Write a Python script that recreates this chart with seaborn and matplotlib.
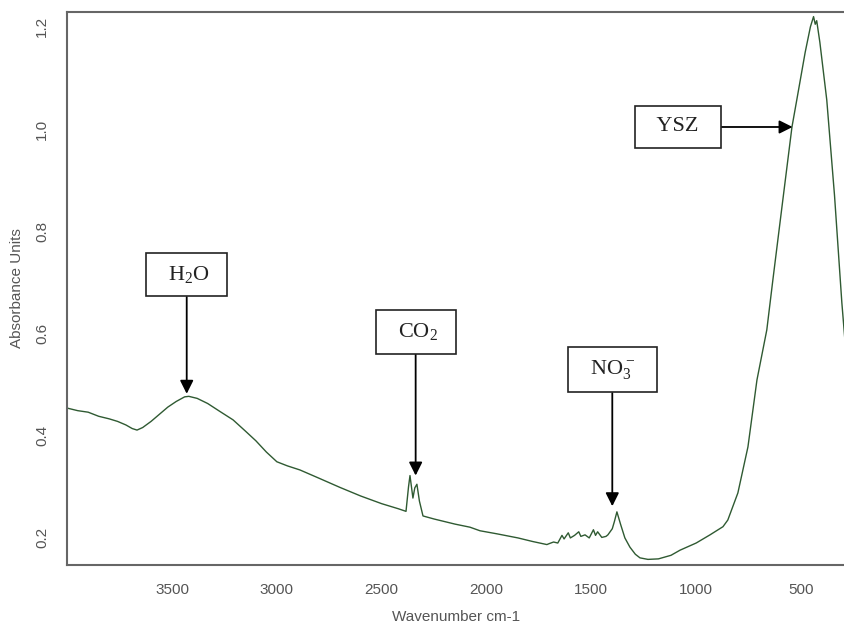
import numpy as np
import pandas as pd
import matplotlib
matplotlib.use("Agg")
import matplotlib.pyplot as plt
import seaborn as sns

## FTIR absorbance spectrum of YSZ powder

wavenumber = [4000, 3950, 3900, 3850, 3800, 3760, 3720, 3690, 3667, 3640,
              3600, 3560, 3520, 3480, 3440, 3420, 3380, 3330, 3270, 3209,
              3150, 3100, 3050, 3000, 2950, 2890, 2800, 2700, 2600, 2500,
              2420, 2384, 2372, 2365, 2358, 2351, 2342, 2332, 2320, 2303,
              2250, 2150, 2079, 2031, 1950, 1850, 1780, 1712, 1700, 1680,
              1660, 1640, 1630, 1610, 1600, 1580, 1560, 1550, 1530, 1510,
              1490, 1480, 1470, 1450, 1430, 1421, 1400, 1390, 1378, 1360,
              1340, 1316, 1290, 1268, 1230, 1180, 1120, 1077, 1000, 934,
              872, 849, 801, 753, 710, 663, 634, 590, 543, 520,
              480, 455, 440, 432, 425, 410, 377, 340, 305, 290]
absorbance = [0.454, 0.449, 0.446, 0.438, 0.433, 0.428, 0.421, 0.414, 0.411, 0.416,
              0.428, 0.442, 0.456, 0.467, 0.476, 0.477, 0.473, 0.463, 0.447, 0.431,
              0.409, 0.390, 0.368, 0.349, 0.341, 0.333, 0.317, 0.299, 0.282, 0.267,
              0.257, 0.252, 0.300, 0.322, 0.300, 0.278, 0.298, 0.305, 0.272, 0.243,
              0.237, 0.227, 0.221, 0.214, 0.208, 0.200, 0.193, 0.187, 0.189, 0.192,
              0.190, 0.205, 0.198, 0.210, 0.200, 0.205, 0.212, 0.203, 0.206, 0.200,
              0.216, 0.205, 0.212, 0.201, 0.203, 0.206, 0.218, 0.232, 0.251, 0.226,
              0.200, 0.182, 0.168, 0.161, 0.158, 0.159, 0.166, 0.176, 0.190, 0.206,
              0.222, 0.235, 0.288, 0.378, 0.509, 0.607, 0.705, 0.850, 1.004, 1.057,
              1.150, 1.200, 1.220, 1.205, 1.212, 1.170, 1.057, 0.870, 0.660, 0.585]

labels = ['H$\\mathregular{_2}$O', 'CO$\\mathregular{_2}$', 'NO$\\mathregular{_3^-}$', 'YSZ']
label_pos = [(3430, 0.715), (2338, 0.603), (1400, 0.529), (1087, 1.004)]
arrow_tip = [(3430, 0.482), (2338, 0.322), (1400, 0.262), (540, 1.004)]

spec = pd.DataFrame({'wavenumber': wavenumber, 'absorbance': absorbance})

sns.set_style('white')
plt.rcParams['mathtext.fontset'] = 'custom'
plt.rcParams['mathtext.rm'] = 'Liberation Serif'

fig = plt.figure(figsize=(8.45, 6.28), dpi=100)
ax = fig.add_axes([0.0793, 0.1003, 0.9207, 0.8806])

sns.lineplot(data=spec, x='wavenumber', y='absorbance', color='#2f5a32',
             linewidth=1.0, ax=ax)

ax.set_xlim(4001, 290)
ax.set_ylim(0.147, 1.229)
ax.set_xticks([3500, 3000, 2500, 2000, 1500, 1000, 500])
ax.set_yticks([0.2, 0.4, 0.6, 0.8, 1.0, 1.2])
ax.set_yticklabels(['0.2', '0.4', '0.6', '0.8', '1.0', '1.2'], rotation=90, va='center')

sans = ['Liberation Sans', 'DejaVu Sans']
for t in ax.get_xticklabels() + ax.get_yticklabels():
    t.set_family(sans)
    t.set_fontsize(11)
    t.set_color('#555555')
ax.tick_params(axis='both', length=5, width=1, color='#666666', pad=8)
ax.set_xlabel('Wavenumber cm-1', family=sans, fontsize=11, color='#555555', labelpad=9)
ax.set_ylabel('Absorbance Units', family=sans, fontsize=11, color='#555555', labelpad=8)

for side in ['left', 'bottom', 'top']:
    ax.spines[side].set_color('#666666')
    ax.spines[side].set_linewidth(1.5)
ax.spines['right'].set_visible(False)

for lab, pos, tip in zip(labels, label_pos, arrow_tip):
    ax.annotate('  ' + lab + '  ', xy=tip, xytext=pos, ha='center', va='center',
                family='Liberation Serif', fontsize=16, color='#222222',
                bbox=dict(boxstyle='square,pad=0.5', fc='white', ec='#222222', lw=1.2),
                arrowprops=dict(arrowstyle='-|>', color='black', lw=1.3,
                                mutation_scale=20, shrinkA=0, shrinkB=0))

fig.savefig('out.png', dpi=100)
